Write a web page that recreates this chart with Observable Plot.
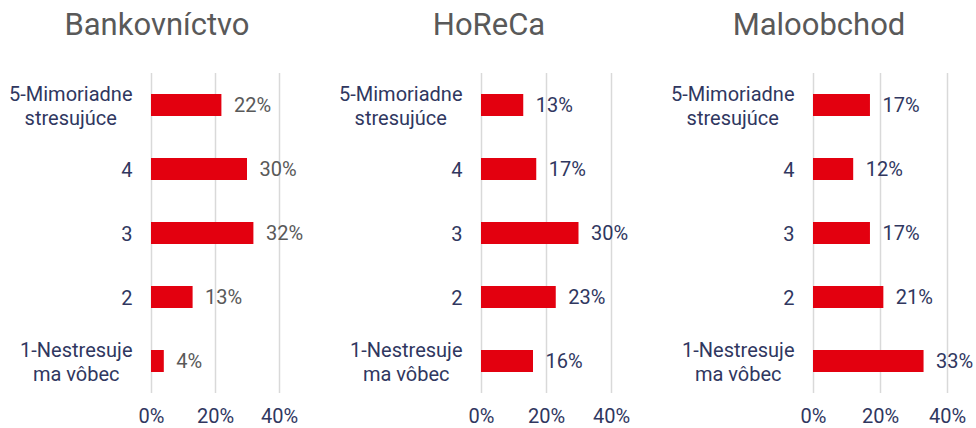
<!DOCTYPE html>
<html>
<head>
<meta charset="utf-8">
<script src="https://cdn.jsdelivr.net/npm/d3@7"></script>
<script src="https://cdn.jsdelivr.net/npm/@observablehq/plot@0.6"></script>
<style>
  body { margin: 0; background: #fff; font-family: Roboto, "Noto Sans", sans-serif; }
  #chart { position: relative; width: 976px; height: 428px; overflow: hidden; }
  .panel { position: absolute; top: 0; }
  .title { height: 60px; box-sizing: border-box; padding-top: 7px; font-size: 31px; line-height: 36px; color: #595959; text-align: center; }
  .panel svg { display: block; overflow: visible; }
</style>
</head>
<body>
<div id="chart"></div>
<script>
// Stress levels (top to bottom) and share of respondents per sector
const levels = ["5-Mimoriadne\nstresujúce", "4", "3", "2", "1-Nestresuje\nma vôbec"];
const sectors = ["Bankovníctvo", "HoReCa", "Maloobchod"];
const bankovnictvo = [0.22, 0.30, 0.32, 0.13, 0.04];
const horeca = [0.13, 0.17, 0.30, 0.23, 0.16];
const maloobchod = [0.17, 0.12, 0.17, 0.21, 0.33];
const xTicks = [0, 0.2, 0.4];

const seriesBySector = [bankovnictvo, horeca, maloobchod];
const valueColors = ["#595959", "#30375f", "#30375f"];

// Panel placement within the row
const panels = [
  {left: 0,   width: 330, marginRight: 51, titlePad: 16},
  {left: 330, width: 330, marginRight: 49, titlePad: 12},
  {left: 662, width: 314, marginRight: 29, titlePad: 0}
];

const NAVY = "#30375f";
const RED = "#e3000f";
const FONT = 20;
const pct = d3.format(".0%");
const chart = document.getElementById("chart");

sectors.forEach((sector, i) => {
  const data = levels.map((level, j) => ({level, value: seriesBySector[i][j]}));
  const layout = panels[i];

  const div = document.createElement("div");
  div.className = "panel";
  div.style.left = layout.left + "px";
  div.style.width = layout.width + "px";

  const title = document.createElement("div");
  title.className = "title";
  title.style.paddingRight = layout.titlePad + "px";
  title.textContent = sector;
  div.appendChild(title);

  const plot = Plot.plot({
    width: layout.width,
    height: 368,
    marginTop: 13,
    marginBottom: 35,
    marginLeft: 151,
    marginRight: layout.marginRight,
    style: {fontFamily: "Roboto, 'Noto Sans', sans-serif", fontSize: FONT + "px", color: NAVY, overflow: "visible"},
    x: {domain: [0, 0.4], ticks: xTicks, tickFormat: pct, label: null},
    y: {domain: levels, paddingInner: 0.656, paddingOuter: 0.328, label: null},
    marks: [
      Plot.gridX(xTicks, {stroke: "#d9d9d9", strokeOpacity: 1, strokeWidth: 1.5}),
      Plot.barX(data, {x: "value", y: "level", fill: RED}),
      Plot.text(data, {x: "value", y: "level", text: d => pct(d.value), textAnchor: "start", dx: 12, fill: valueColors[i], fontSize: FONT}),
      Plot.axisX({ticks: xTicks, tickFormat: pct, tickSize: 0, tickPadding: 15, fontSize: FONT, fill: NAVY, label: null}),
      Plot.axisY({tickSize: 0, tickPadding: 19, fontSize: FONT, lineHeight: 1.2, fill: NAVY, label: null})
    ]
  });
  div.appendChild(plot);
  chart.appendChild(div);

  // Center the lines of two-line category labels on each other, keeping the block right-aligned
  plot.querySelectorAll("g[aria-label='y-axis tick label'] text").forEach(t => {
    const spans = t.querySelectorAll("tspan");
    if (spans.length < 2) return;
    const w = Math.max(...Array.from(spans, s => s.getComputedTextLength()));
    t.setAttribute("text-anchor", "middle");
    spans.forEach(s => s.setAttribute("x", -w / 2));
  });
});
</script>
</body>
</html>
